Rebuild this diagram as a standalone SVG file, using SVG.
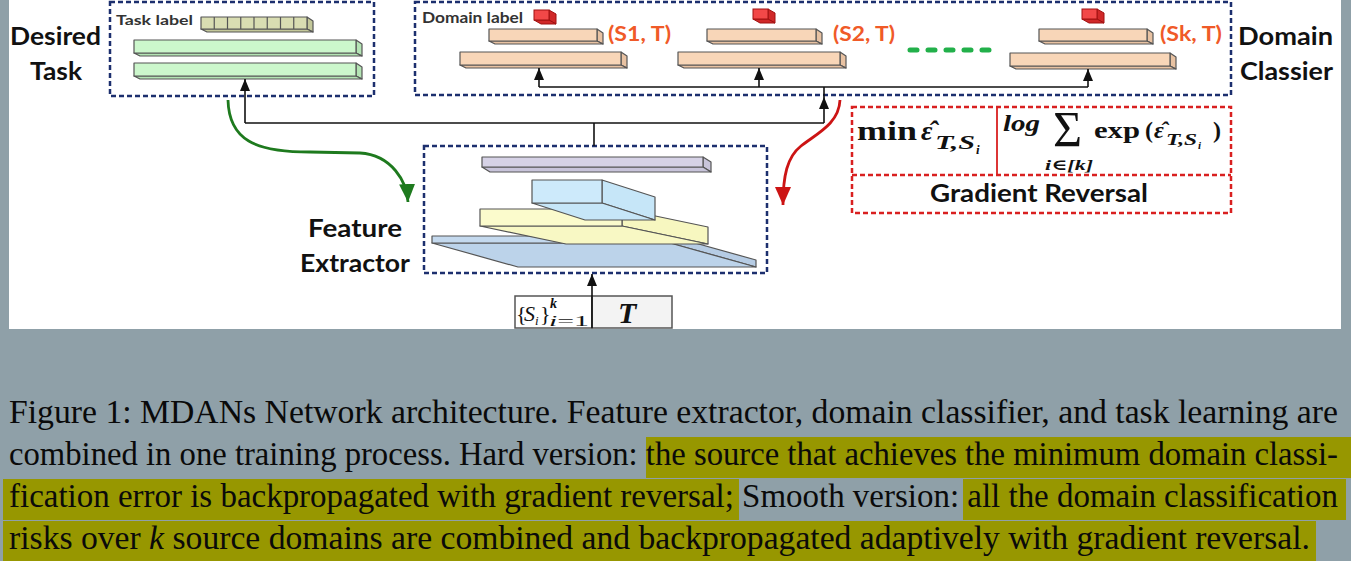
<svg xmlns="http://www.w3.org/2000/svg" width="1351" height="561" viewBox="0 0 1351 561">
<style>
.lbl{font-family:Lato,"Open Sans",sans-serif;font-weight:bold;fill:#111}
.small{font-family:Lato,"Open Sans",sans-serif;font-weight:bold;fill:#333}
.st{font-family:Lato,"Open Sans",sans-serif;font-weight:bold;fill:#f05a28;font-size:20px}
.bdash{fill:none;stroke:#1c2f6e;stroke-width:2.5;stroke-dasharray:5 3}
.rdash{fill:none;stroke:#d92020;stroke-width:2.5;stroke-dasharray:5 3}
.edge{fill:none;stroke:#111;stroke-width:1.6}
.ol{stroke:#555;stroke-width:1.2;stroke-linejoin:round}
.green{fill:#ccf7cc}.greens{fill:#b4e4b4}
.peach{fill:#f8d6b8}.peachs{fill:#e8c2a2}
.khaki{fill:#d9ddb2}.khakis{fill:#c4c89a}
.cube{fill:#f24848;stroke:#a01010;stroke-width:1}.cubes{fill:#d02828;stroke:#a01010;stroke-width:1}
.math{font-family:"Liberation Serif","DejaVu Serif",serif;fill:#111}
.it{font-style:italic}
.b{font-weight:bold}
.cap{font-family:"Liberation Serif","Times New Roman",serif;font-size:33px;fill:#0a0a0a}
</style>
<defs>
<marker id="ah" viewBox="0 0 12 10" refX="12" refY="5" markerWidth="12" markerHeight="10" markerUnits="userSpaceOnUse" orient="auto"><path d="M0,0 L12,5 L0,10 z" fill="#111"/></marker>
<marker id="ahg" viewBox="0 0 18 16" refX="18" refY="8" markerWidth="18" markerHeight="16" markerUnits="userSpaceOnUse" orient="auto"><path d="M0,0 L18,8 L0,16 z" fill="#1e7a1e"/></marker>
<marker id="ahr" viewBox="0 0 18 16" refX="18" refY="8" markerWidth="18" markerHeight="16" markerUnits="userSpaceOnUse" orient="auto"><path d="M0,0 L18,8 L0,16 z" fill="#cc1414"/></marker>
</defs>
<rect x="0" y="0" width="1351" height="561" fill="#8fa0a8"/>
<rect x="9" y="0" width="1332" height="329" fill="#ffffff"/>

<g id="desired-task">
<rect class="bdash" x="110" y="2" width="264" height="94"/>
<text class="lbl" x="10" y="45" font-size="25" textLength="91" lengthAdjust="spacingAndGlyphs">Desired</text>
<text class="lbl" x="30" y="80" font-size="25" textLength="52" lengthAdjust="spacingAndGlyphs">Task</text>
<text class="small" x="116" y="25" font-size="14" textLength="77" lengthAdjust="spacingAndGlyphs">Task label</text>
<g class="ol">
<polygon class="khakis" points="307,17 313,21 313,32 307,29"/>
<polygon class="khakis" points="201,29 307,29 313,32 207,32"/>
<rect class="khaki" x="201" y="17" width="106" height="12"/>
<path d="M214.25,17v12M227.5,17v12M240.75,17v12M254,17v12M267.25,17v12M280.5,17v12M293.75,17v12" fill="none"/>
<polygon class="greens" points="356,40 362,44 362,56 356,53"/>
<polygon class="greens" points="134,53 356,53 362,56 140,56"/>
<rect class="green" x="134" y="40" width="222" height="13"/>
<polygon class="greens" points="356,63 362,67 362,79 356,76"/>
<polygon class="greens" points="134,76 356,76 362,79 140,79"/>
<rect class="green" x="134" y="63" width="222" height="13"/>
</g>
</g>

<g id="domain-classifier">
<rect class="bdash" x="415" y="2" width="816" height="93"/>
<text class="lbl" x="1238" y="45" font-size="25" textLength="95" lengthAdjust="spacingAndGlyphs">Domain</text>
<text class="lbl" x="1240" y="80" font-size="25" textLength="93" lengthAdjust="spacingAndGlyphs">Classier</text>
<text class="small" x="422" y="23" font-size="15" textLength="101" lengthAdjust="spacingAndGlyphs">Domain label</text>
<g>
<polygon class="cubes" points="549,10 556,14 556,24 549,20"/><polygon class="cubes" points="534,20 549,20 556,24 541,24"/><rect class="cube" x="534" y="10" width="15" height="10"/>
<polygon class="cubes" points="768,9 775,13 775,23 768,19"/><polygon class="cubes" points="753,19 768,19 775,23 760,23"/><rect class="cube" x="753" y="9" width="15" height="10"/>
<polygon class="cubes" points="1097,9 1104,13 1104,23 1097,19"/><polygon class="cubes" points="1082,19 1097,19 1104,23 1089,23"/><rect class="cube" x="1082" y="9" width="15" height="10"/>
</g>
<g class="ol">
<polygon class="peachs" points="597,29 603,33 603,44 597,41"/><polygon class="peachs" points="489,41 597,41 603,44 495,44"/><rect class="peach" x="489" y="29" width="108" height="12"/>
<polygon class="peachs" points="621,52 627,56 627,68 621,65"/><polygon class="peachs" points="460,65 621,65 627,68 466,68"/><rect class="peach" x="460" y="52" width="161" height="13"/>
<polygon class="peachs" points="816,29 822,33 822,44 816,41"/><polygon class="peachs" points="707,41 816,41 822,44 713,44"/><rect class="peach" x="707" y="29" width="109" height="12"/>
<polygon class="peachs" points="840,52 846,56 846,68 840,65"/><polygon class="peachs" points="678,65 840,65 846,68 684,68"/><rect class="peach" x="678" y="52" width="162" height="13"/>
<polygon class="peachs" points="1147,29 1153,33 1153,44 1147,41"/><polygon class="peachs" points="1039,41 1147,41 1153,44 1045,44"/><rect class="peach" x="1039" y="29" width="108" height="12"/>
<polygon class="peachs" points="1170,53 1176,57 1176,69 1170,66"/><polygon class="peachs" points="1010,66 1170,66 1176,69 1016,69"/><rect class="peach" x="1010" y="53" width="160" height="13"/>
</g>
<text class="st" x="608" y="41" textLength="63" lengthAdjust="spacingAndGlyphs">(S1, T)</text>
<text class="st" x="833" y="41" textLength="62" lengthAdjust="spacingAndGlyphs">(S2, T)</text>
<text class="st" x="1160" y="41" textLength="62" lengthAdjust="spacingAndGlyphs">(Sk, T)</text>
<line x1="910" y1="50" x2="993" y2="50" stroke="#22b04a" stroke-width="5" stroke-linecap="round" stroke-dasharray="7 11"/>
</g>

<g id="gradient-reversal">
<rect class="rdash" x="852" y="107" width="379" height="106"/>
<line class="rdash" x1="852" y1="175" x2="1231" y2="175"/>
<line x1="997" y1="108" x2="997" y2="175" stroke="#d92020" stroke-width="1.8"/>
<text class="math b" y="140" font-size="28"><tspan x="857" textLength="60" lengthAdjust="spacingAndGlyphs">min</tspan><tspan x="921" class="it">ε̂</tspan><tspan x="935" y="149" font-size="19" class="it" textLength="40" lengthAdjust="spacingAndGlyphs">T,S</tspan><tspan x="976" y="154" font-size="13" class="it">i</tspan></text>
<text class="math it b" x="1003" y="131" font-size="24" textLength="37" lengthAdjust="spacingAndGlyphs">log</text>
<text class="math" x="1053" y="146" font-size="50">Σ</text>
<text class="math b it" x="1045" y="170" font-size="15" textLength="48" lengthAdjust="spacingAndGlyphs">i∈[k]</text>
<text class="math b" y="138" font-size="24"><tspan x="1094" textLength="46" lengthAdjust="spacingAndGlyphs">exp</tspan><tspan x="1145">(</tspan><tspan x="1154" class="it">ε̂</tspan><tspan x="1166" y="145" font-size="16" class="it" textLength="31" lengthAdjust="spacingAndGlyphs">T,S</tspan><tspan x="1198" y="149" font-size="11" class="it">i</tspan><tspan x="1213" y="138">)</tspan></text>
<text class="lbl" x="930" y="202" font-size="24" textLength="218" lengthAdjust="spacingAndGlyphs">Gradient Reversal</text>
</g>

<g id="feature-extractor">
<rect class="bdash" x="424" y="146" width="343" height="127"/>
<text class="lbl" x="308" y="237" font-size="25" textLength="94" lengthAdjust="spacingAndGlyphs">Feature</text>
<text class="lbl" x="300" y="272" font-size="25" textLength="110" lengthAdjust="spacingAndGlyphs">Extractor</text>
<g class="ol">
<polygon fill="#b6cce4" points="670,236 756,260 756,267 670,243"/>
<polygon fill="#bcd3ea" points="432,243 670,243 756,267 518,267"/>
<rect fill="#c4d9ee" x="432" y="236" width="238" height="7"/>
<polygon fill="#f7f7c0" points="622,209 708,227 708,244 622,226"/>
<polygon fill="#f8f8c4" points="480,226 622,226 708,244 566,244"/>
<rect fill="#fbfbcc" x="480" y="209" width="142" height="17"/>
<polygon fill="#c6e6f8" points="602,180 655,197 655,220 602,203"/>
<polygon fill="#c6e6f8" points="532,203 602,203 655,220 585,220"/>
<rect fill="#cdeafb" x="532" y="180" width="70" height="23"/>
<polygon fill="#c8c4da" points="703,157 711,162 711,172 703,167"/>
<polygon fill="#c8c4da" points="482,167 703,167 711,172 490,172"/>
<rect fill="#d6d2e6" x="482" y="157" width="221" height="10"/>
</g>
</g>

<g id="input">
<rect x="515" y="296" width="77" height="32" fill="#ffffff" stroke="#555" stroke-width="1.5"/>
<rect x="592" y="296" width="80" height="32" fill="#f3f3f3" stroke="#555" stroke-width="1.5"/>
<text class="math" y="321" font-size="22"><tspan x="516">{</tspan><tspan x="524" class="it">S</tspan><tspan x="535" y="325" font-size="13" class="it">i</tspan><tspan x="540" y="321">}</tspan></text>
<text class="math it b" x="550" y="308" font-size="14">k</text>
<text class="math" x="549" y="326" font-size="15" textLength="40" lengthAdjust="spacingAndGlyphs"><tspan class="it">i</tspan>=1</text>
<text class="math b it" x="618" y="323" font-size="30">T</text>
</g>

<g id="connectors">
<polyline class="edge" points="594,146 594,123"/>
<polyline class="edge" points="245,123 824,123"/>
<line class="edge" x1="245" y1="123" x2="245" y2="79" marker-end="url(#ah)"/>
<line class="edge" x1="824" y1="123" x2="824" y2="97" marker-end="url(#ah)"/>
<line class="edge" x1="824" y1="97" x2="824" y2="87"/>
<polyline class="edge" points="539,87 1088,87"/>
<line class="edge" x1="539" y1="87" x2="539" y2="68" marker-end="url(#ah)"/>
<line class="edge" x1="759" y1="87" x2="759" y2="68" marker-end="url(#ah)"/>
<line class="edge" x1="1088" y1="87" x2="1088" y2="69" marker-end="url(#ah)"/>
<line class="edge" x1="592" y1="328" x2="592" y2="274" marker-end="url(#ah)"/>
<path d="M228,100 C229,140 255,152 310,152 L360,153 C392,155 407,182 408,202" fill="none" stroke="#1e7a1e" stroke-width="2.8" marker-end="url(#ahg)"/>
<path d="M840,100 C839,124 816,134 801,146 C787,157 783,176 783,205" fill="none" stroke="#cc1414" stroke-width="2.8" marker-end="url(#ahr)"/>
</g>

<g id="caption">
<rect x="646" y="437" width="705" height="41" fill="#979700"/>
<rect x="3" y="479" width="736" height="41" fill="#979700"/>
<rect x="963" y="479" width="383" height="41" fill="#979700"/>
<rect x="3" y="521" width="1313" height="40" fill="#979700"/>
<text class="cap" x="9" y="423" textLength="1329" lengthAdjust="spacingAndGlyphs">Figure 1: MDANs Network architecture. Feature extractor, domain classifier, and task learning are</text>
<text class="cap" x="9" y="465" textLength="1329" lengthAdjust="spacingAndGlyphs">combined in one training process. Hard version: the source that achieves the minimum domain classi-</text>
<text class="cap" x="9" y="507" textLength="1329" lengthAdjust="spacingAndGlyphs">fication error is backpropagated with gradient reversal; Smooth version: all the domain classification</text>
<text class="cap" x="9" y="549" textLength="1301" lengthAdjust="spacingAndGlyphs">risks over <tspan font-style="italic">k</tspan> source domains are combined and backpropagated adaptively with gradient reversal.</text>
</g>
</svg>
